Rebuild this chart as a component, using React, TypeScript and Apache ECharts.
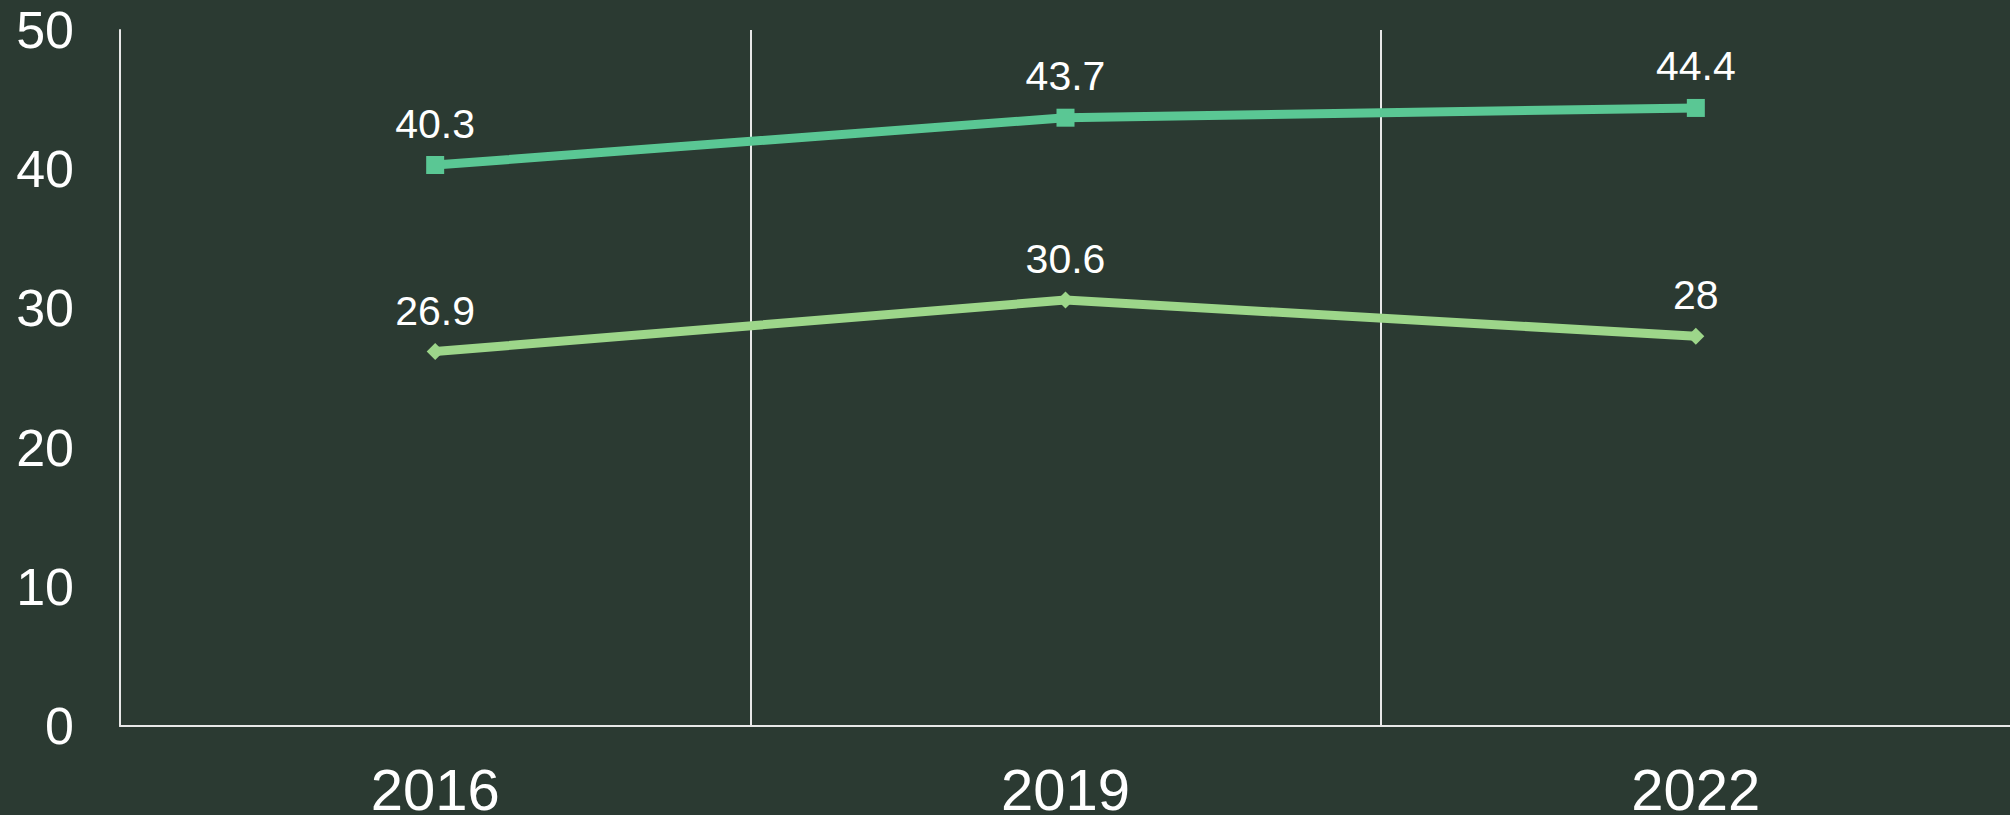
import React, { useEffect, useRef } from "react";
import * as echarts from "echarts";

const categories = ["2016", "2019", "2022"];
const seriesA = [40.3, 43.7, 44.4];
const seriesB = [26.9, 30.6, 28];
const yMin = 0;
const yMax = 50;
const yInterval = 10;

export default function App() {
  const ref = useRef<HTMLDivElement>(null);
  useEffect(() => {
    if (!ref.current) return;
    const chart = echarts.init(ref.current, undefined, { renderer: "svg" });
    const font = "'Liberation Sans', Arial, sans-serif";
    chart.setOption({
      animation: false,
      backgroundColor: "#2b3a32",
      grid: {
        left: 120,
        right: -1,
        top: 30,
        bottom: 89,
        containLabel: false,
        outerBoundsMode: "none",
      },
      xAxis: {
        type: "category",
        data: categories,
        boundaryGap: true,
        axisLine: { show: true, lineStyle: { color: "#e8e8e8", width: 2 } },
        axisTick: { show: false },
        splitLine: { show: true, lineStyle: { color: "#e8e8e8", width: 2 } },
        axisLabel: { color: "#ffffff", fontSize: 58, fontFamily: font, margin: 34 },
      },
      yAxis: {
        type: "value",
        min: yMin,
        max: yMax,
        interval: yInterval,
        axisLine: { show: true, lineStyle: { color: "#e8e8e8", width: 2 } },
        axisTick: { show: false },
        splitLine: { show: false },
        axisLabel: { color: "#ffffff", fontSize: 52, fontFamily: font, margin: 46 },
      },
      series: [
        {
          type: "line",
          data: seriesA,
          symbol: "rect",
          symbolSize: 18,
          lineStyle: { color: "#5ac794", width: 9 },
          itemStyle: { color: "#5ac794" },
          label: {
            show: true,
            position: "top",
            distance: 12,
            color: "#ffffff",
            fontSize: 41,
            fontFamily: font,
          },
        },
        {
          type: "line",
          data: seriesB,
          symbol: "diamond",
          symbolSize: 17,
          lineStyle: { color: "#9dd68a", width: 9 },
          itemStyle: { color: "#9dd68a" },
          label: {
            show: true,
            position: "top",
            distance: 12,
            color: "#ffffff",
            fontSize: 41,
            fontFamily: font,
          },
        },
      ],
    });
    return () => chart.dispose();
  }, []);
  return (
    <div
      ref={ref}
      style={{ width: 2010, height: 815, position: "absolute", left: 0, top: 0 }}
    />
  );
}
